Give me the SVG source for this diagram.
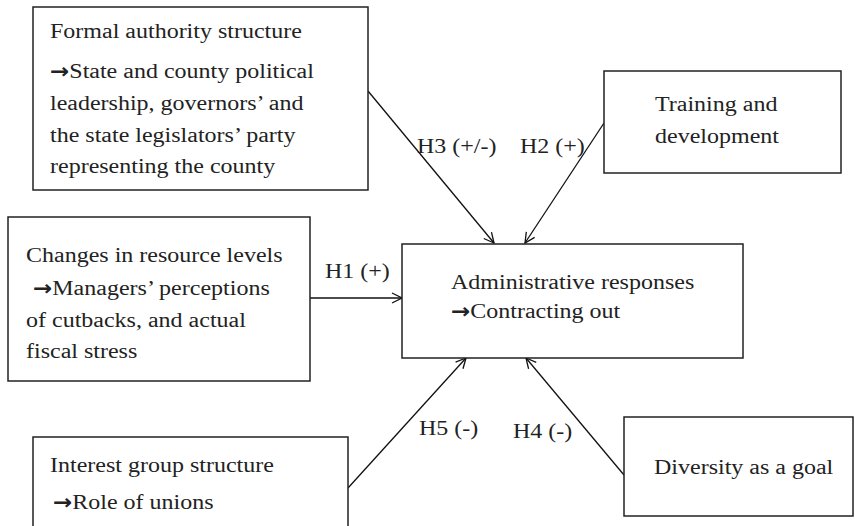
<svg xmlns="http://www.w3.org/2000/svg" width="855" height="526" viewBox="0 0 855 526">
<style>
.box{fill:#fff;stroke:#222;stroke-width:1.5}
.t{font-family:"Liberation Serif","Times New Roman",serif;font-size:24px;fill:#222}
.ar{font-family:"DejaVu Sans",sans-serif;font-weight:bold;font-size:23px}
.c{stroke:#111;stroke-width:1.3;fill:none;marker-end:url(#ah)}
</style>
<defs>
<marker id="ah" viewBox="0 0 12 12" refX="11" refY="6" markerWidth="12" markerHeight="12" markerUnits="userSpaceOnUse" orient="auto">
<polyline points="1,1 11,6 1,11" fill="none" stroke="#111" stroke-width="1.3"/>
</marker>
</defs>
<rect width="855" height="526" fill="#fff"/>
<g id="connectors">
<line class="c" x1="368" y1="91" x2="494" y2="243"/>
<line class="c" x1="604" y1="123" x2="525" y2="243"/>
<line class="c" x1="310" y1="298" x2="402" y2="298"/>
<line class="c" x1="348" y1="488" x2="466" y2="358"/>
<line class="c" x1="624" y1="475" x2="526" y2="358"/>
<text class="t" transform="translate(417 153) scale(1 .9)">H3 (+/-)</text>
<text class="t" transform="translate(520 153) scale(1 .9)">H2 (+)</text>
<text class="t" transform="translate(325 278) scale(1 .9)">H1 (+)</text>
<text class="t" transform="translate(419 435) scale(1 .9)">H5 (-)</text>
<text class="t" transform="translate(513 438) scale(1 .9)">H4 (-)</text>
</g>
<g id="formal">
<rect class="box" x="33" y="7" width="335" height="183"/>
<text class="t" transform="translate(50 38) scale(1 .9)">Formal authority structure</text>
<text class="t" transform="translate(50 78) scale(1 .9)"><tspan class="ar">→</tspan>State and county political</text>
<text class="t" transform="translate(50 110) scale(1 .9)">leadership, governors’ and</text>
<text class="t" transform="translate(50 142) scale(1 .9)">the state legislators’ party</text>
<text class="t" transform="translate(50 173) scale(1 .9)">representing the county</text>
</g>
<g id="training">
<rect class="box" x="604" y="71" width="237" height="102"/>
<text class="t" transform="translate(655 111) scale(1 .9)">Training and</text>
<text class="t" transform="translate(655 143) scale(1 .9)">development</text>
</g>
<g id="resources">
<rect class="box" x="8" y="217" width="302" height="164"/>
<text class="t" transform="translate(26 262) scale(1 .9)">Changes in resource levels</text>
<text class="t" transform="translate(33 295) scale(1 .9)"><tspan class="ar">→</tspan>Managers’ perceptions</text>
<text class="t" transform="translate(26 327) scale(1 .9)">of cutbacks, and actual</text>
<text class="t" transform="translate(26 358) scale(1 .9)">fiscal stress</text>
</g>
<g id="admin">
<rect class="box" x="402" y="244" width="341" height="114"/>
<text class="t" transform="translate(451 289) scale(1 .9)">Administrative responses</text>
<text class="t" transform="translate(451 318) scale(1 .9)"><tspan class="ar">→</tspan>Contracting out</text>
</g>
<g id="interest">
<rect class="box" x="33" y="437" width="315" height="100"/>
<text class="t" transform="translate(50 472) scale(1 .9)">Interest group structure</text>
<text class="t" transform="translate(53 509) scale(1 .9)"><tspan class="ar">→</tspan>Role of unions</text>
</g>
<g id="diversity">
<rect class="box" x="624" y="417" width="229" height="99"/>
<text class="t" transform="translate(654 474) scale(1 .9)">Diversity as a goal</text>
</g>
</svg>
